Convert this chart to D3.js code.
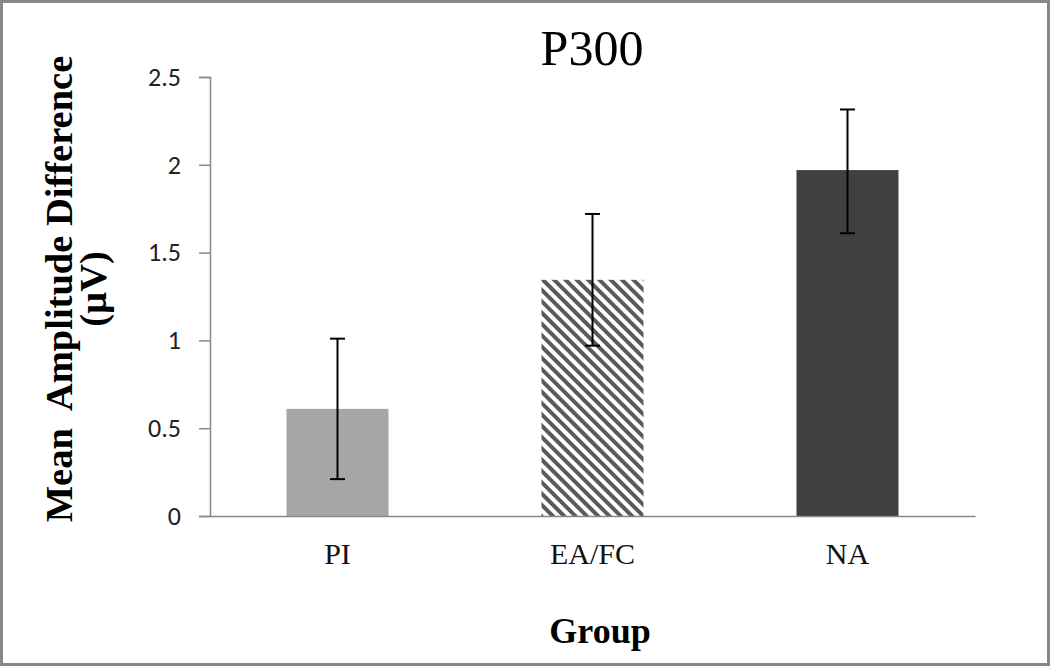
<!DOCTYPE html>
<html><head><meta charset="utf-8">
<script src="https://cdn.jsdelivr.net/npm/d3@7"></script>
<style>body{margin:0;background:#fff}svg{display:block}</style>
</head><body>
<script>
const categories = ["PI", "EA/FC", "NA"];
const means = [0.61, 1.345, 1.97];
const errLow = [0.21, 0.97, 1.61];
const errHigh = [1.01, 1.72, 2.315];
const yTicks = [0, 0.5, 1, 1.5, 2, 2.5];
const yTickLabels = ["0", "0.5", "1", "1.5", "2", "2.5"];

const W = 1050, H = 666;
const svg = d3.select("body").append("svg").attr("width", W).attr("height", H);

const defs = svg.append("defs");
const pat = defs.append("pattern").attr("id", "hatch")
  .attr("patternUnits", "userSpaceOnUse").attr("width", 8).attr("height", 8)
  .attr("patternTransform", "rotate(-45)");
pat.append("rect").attr("width", 8).attr("height", 8).attr("fill", "#fff");
pat.append("rect").attr("x", 0).attr("y", 0).attr("width", 4).attr("height", 8).attr("fill", "#5a5a5a");

// border
svg.append("rect").attr("x", 1.5).attr("y", 1.5).attr("width", W - 3).attr("height", H - 3)
  .attr("fill", "none").attr("stroke", "#878787").attr("stroke-width", 3);

const x = d3.scaleBand().domain(categories).range([210, 975]).paddingInner(0.6).paddingOuter(0.3);
const y = d3.scaleLinear().domain([0, 2.5]).range([516, 77]);

const fills = ["#a6a6a6", "url(#hatch)", "#404040"];

// y axis
const yAxis = d3.axisLeft(y).tickValues(yTicks).tickFormat((d, i) => yTickLabels[i]).tickSizeOuter(0).tickSize(11).tickPadding(18);
const gy = svg.append("g").attr("transform", "translate(210,0)").call(yAxis);
gy.select(".domain").attr("stroke", "#888").attr("stroke-width", 1.5);
gy.selectAll(".tick line").attr("stroke", "#888").attr("stroke-width", 1.5);
gy.selectAll(".tick text").attr("font-family", "Carlito, 'Liberation Sans', sans-serif").attr("font-size", 26).attr("fill", "#222");

// bars
svg.selectAll(".bar").data(categories).enter().append("rect")
  .attr("x", d => x(d)).attr("width", x.bandwidth())
  .attr("y", (d, i) => y(means[i])).attr("height", (d, i) => y(0) - y(means[i]))
  .attr("fill", (d, i) => fills[i]);

// x axis
const xAxis = d3.axisBottom(x).tickSize(0).tickPadding(0);
const gx = svg.append("g").attr("transform", `translate(0,${y(0)})`).call(xAxis);
gx.select(".domain").attr("stroke", "#888").attr("stroke-width", 1.5);
gx.selectAll(".tick text").attr("font-family", "'Liberation Serif', 'Times New Roman', serif")
  .attr("font-size", 30).attr("fill", "#111").attr("dy", 0).attr("y", 48);

// error bars
const eb = svg.append("g").attr("stroke", "#000").attr("stroke-width", 2);
categories.forEach((c, i) => {
  const cx = x(c) + x.bandwidth() / 2;
  eb.append("line").attr("x1", cx).attr("x2", cx).attr("y1", y(errHigh[i])).attr("y2", y(errLow[i]));
  eb.append("line").attr("x1", cx - 7.5).attr("x2", cx + 7.5).attr("y1", y(errHigh[i])).attr("y2", y(errHigh[i]));
  eb.append("line").attr("x1", cx - 7.5).attr("x2", cx + 7.5).attr("y1", y(errLow[i])).attr("y2", y(errLow[i]));
});

// title
svg.append("text").attr("x", 592).attr("y", 65).attr("text-anchor", "middle")
  .attr("font-family", "'Liberation Serif', 'Times New Roman', serif").attr("font-size", 50).attr("fill", "#000").text("P300");

// axis titles
svg.append("text").attr("x", 600).attr("y", 643).attr("text-anchor", "middle")
  .attr("font-family", "'Liberation Serif', 'Times New Roman', serif").attr("font-weight", "bold")
  .attr("font-size", 36).attr("fill", "#000").text("Group");

const yl = svg.append("text").attr("transform", "translate(0,289) rotate(-90)").attr("text-anchor", "middle")
  .attr("font-family", "'Liberation Serif', 'Times New Roman', serif").attr("font-weight", "bold")
  .attr("font-size", 38.5).attr("fill", "#000");
yl.append("tspan").attr("x", 0).attr("y", 72).style("white-space", "pre").text("Mean  Amplitude Difference");
yl.append("tspan").attr("x", 0).attr("y", 106).text("(µV)");
</script>
</body></html>
